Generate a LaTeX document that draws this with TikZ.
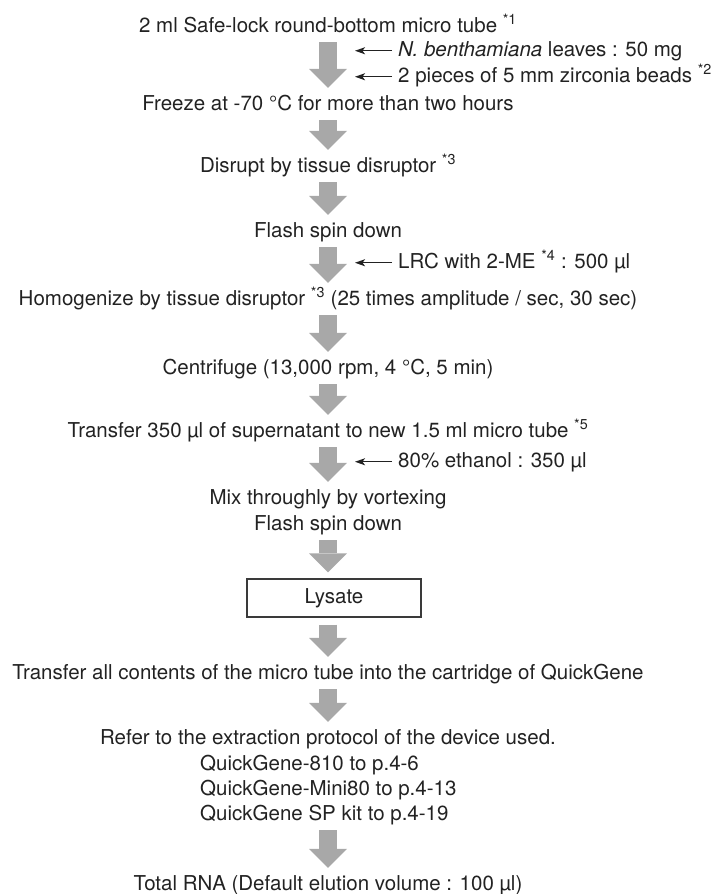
\documentclass[tikz,border=0pt]{standalone}
\usepackage{fontspec}
\setmainfont{TeX Gyre Heros}
\usetikzlibrary{arrows.meta}
\definecolor{arrowgray}{HTML}{A8A8A8}
\definecolor{textgray}{HTML}{222222}
\definecolor{boxgray}{HTML}{3A3A3A}
\newcommand{\fnmark}[1]{\textsuperscript{*#1}}

\begin{document}
\begin{tikzpicture}[x=1pt, y=-1pt,
    stepnode/.style={anchor=base, inner sep=0pt, text height=15pt, text depth=4.5pt,
      text=textgray, font=\fontsize{20.5}{25}\selectfont},
    sidenode/.style={stepnode, anchor=base west},
    fatarrow/.style={draw=arrowgray, line width=18pt, shorten <=5.5pt, shorten >=7pt,
      -{Triangle[length=19pt, width=38pt, line width=0pt]}},
    feedarrow/.style={draw=textgray, line width=1.2pt,
      -{Stealth[length=10pt, width=7pt, inset=2.5pt]}},
  ]
  \useasboundingbox (0,0) rectangle (723,894);
  \coordinate (axis) at (328,0);

  \node[stepnode] (tube) at (328,32) {2 ml Safe-lock round-bottom micro tube \fnmark{1}};
  \node[sidenode] (benth) at (398,56) {\textit{N. benthamiana} leaves : 50 mg};
  \node[sidenode] (beads) at (398,82) {2 pieces of 5 mm zirconia beads \fnmark{2}};
  \node[stepnode] (freeze) at (328,110) {Freeze at -70 °C for more than two hours};
  \node[stepnode] (disrupt) at (328,172) {Disrupt by tissue disruptor \fnmark{3}};
  \node[stepnode] (spin) at (328,237) {Flash spin down};
  \node[sidenode] (lrc) at (398,268) {LRC with 2-ME \fnmark{4} : 500 µl};
  \node[stepnode] (homog) at (328,305) {Homogenize by tissue disruptor \fnmark{3} (25 times amplitude / sec, 30 sec)};
  \node[stepnode] (centri) at (328,374) {Centrifuge (13,000 rpm, 4 °C, 5 min)};
  \node[stepnode] (super) at (328,437) {Transfer 350 µl of supernatant to new 1.5 ml micro tube \fnmark{5}};
  \node[sidenode] (ethanol) at (398,467) {80\% ethanol : 350 µl};
  \node[stepnode] (mix) at (328,504) {Mix throughly by vortexing};
  \node[stepnode] (spintwo) at (328,530) {Flash spin down};
  \node[stepnode, anchor=center, draw=boxgray, line width=1.1pt, minimum width=174pt,
    minimum height=38pt] (lysate) at (334,598) {Lysate};
  \node[stepnode] (load) at (328,679) {Transfer all contents of the micro tube into the cartridge of QuickGene};
  \node[stepnode] (refer) at (328,744) {Refer to the extraction protocol of the device used.};
  \node[sidenode] (qgone) at (200,770) {QuickGene-810 to p.4-6};
  \node[sidenode] (qgtwo) at (200,795) {QuickGene-Mini80 to p.4-13};
  \node[sidenode] (qgthree) at (200,820) {QuickGene SP kit to p.4-19};
  \node[stepnode] (rna) at (328,890) {Total RNA (Default elution volume : 100 µl)};

  \foreach \a/\b in {tube/freeze, freeze/disrupt, disrupt/spin, spin/homog,
      homog/centri, centri/super, super/mix, load/refer, qgthree/rna} {
    \draw[fatarrow] (axis |- \a.south) -- (axis |- \b.north);
  }
  \draw[fatarrow, shorten >=6pt] (axis |- spintwo.south) -- (axis |- lysate.north);
  \draw[fatarrow, shorten <=7pt] (axis |- lysate.south) -- (axis |- load.north);

  \foreach \s in {benth, beads, lrc, ethanol} {
    \draw[feedarrow] ([xshift=-6pt]\s.west) -- ([xshift=-43pt]\s.west);
  }
\end{tikzpicture}
\end{document}
